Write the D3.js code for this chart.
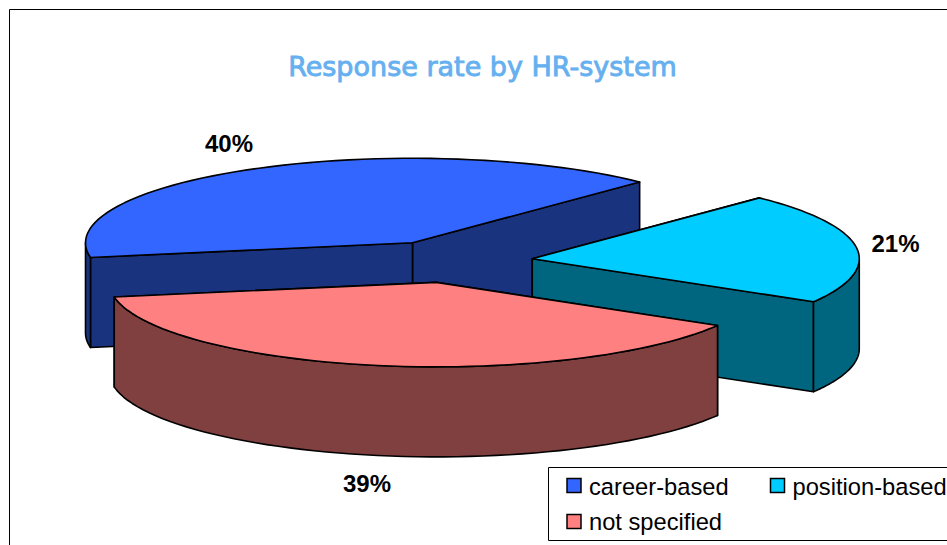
<!DOCTYPE html>
<html><head><meta charset="utf-8">
<script src="https://cdn.jsdelivr.net/npm/d3@7/dist/d3.min.js"></script>
<style>html,body{margin:0;padding:0;background:#fff;overflow:hidden}svg{display:block}</style>
</head><body><script>
const categories = ["career-based", "position-based", "not specified"];
const values = [40, 21.3, 38.7];
const labels = ["40%", "21%", "39%"];
const topColors = ["#3366ff", "#00ccff", "#ff8080"];
const sideColors = ["#19337f", "#006680", "#804040"];

const W = 947, H = 545;
const svg = d3.select("body").append("svg").attr("width", W).attr("height", H);
svg.append("rect").attr("width", W).attr("height", H).attr("fill", "#fff");
svg.append("path").attr("d", `M9.5 ${H}V9.5H${W}`).attr("fill", "none").attr("stroke", "#000").attr("stroke-width", 1);

svg.append("text").attr("x", 482.5).attr("y", 76).attr("text-anchor", "middle")
  .attr("font-family", "'DejaVu Sans'").attr("font-size", 27)
  .attr("fill", "#66b0f0").attr("stroke", "#66b0f0").attr("stroke-width", 0.9)
  .text("Response rate by HR-system");

// Pie geometry
const rx = 327, ry = 84.5, depth = 90, explode = 82, tilt = ry / rx;
const cx = 451, cy = 261.5;
const deg = Math.PI / 180;
const pie = d3.pie().sort(null).startAngle(-100 * deg).endAngle(260 * deg);
const arcs = pie(values);
const lineGen = d3.line();

function pt(c, a, r, z) {
  return [c[0] + Math.sin(a) * r, c[1] - Math.cos(a) * r * tilt + z];
}
const g = svg.append("g").attr("stroke", "#000").attr("stroke-width", 1.6).attr("stroke-linejoin", "round");

arcs.forEach((d, i) => {
  const mid = (d.startAngle + d.endAngle) / 2;
  const c = [cx + Math.sin(mid) * explode, cy - Math.cos(mid) * explode * tilt];
  const side = sideColors[i];
  const samples = (a0, a1) => d3.range(0, 61).map(k => a0 + (a1 - a0) * k / 60);

  // radial cut faces, the farther one first
  [d.startAngle, d.endAngle]
    .sort((a, b) => pt(c, a, rx, 0)[1] - pt(c, b, rx, 0)[1])
    .forEach(a => {
      g.append("path").attr("fill", side).attr("d", lineGen([
        pt(c, a, 0, 0), pt(c, a, rx, 0), pt(c, a, rx, depth), pt(c, a, 0, depth)
      ]) + "Z");
    });

  // outer rim: only the part of the arc facing the viewer (clock angle 90..270)
  const r0 = Math.max(d.startAngle, 90 * deg), r1 = Math.min(d.endAngle, 270 * deg);
  const ranges = [[r0, r1], [Math.max(d.startAngle, -270 * deg), Math.min(d.endAngle, -90 * deg)]];
  ranges.forEach(([a0, a1]) => {
    if (a1 <= a0) return;
    const s = samples(a0, a1);
    g.append("path").attr("fill", side).attr("d", lineGen(
      s.map(a => pt(c, a, rx, 0)).concat(s.slice().reverse().map(a => pt(c, a, rx, depth)))
    ) + "Z");
  });

  // top face
  g.append("path").attr("fill", topColors[i]).attr("d", lineGen(
    [pt(c, 0, 0, 0)].concat(samples(d.startAngle, d.endAngle).map(a => pt(c, a, rx, 0)))
  ) + "Z");
});

// Percent labels
const labelX = d3.scaleOrdinal().domain(categories).range([229, 895.5, 367]);
const labelY = d3.scaleOrdinal().domain(categories).range([152, 252, 492]);
svg.append("g").selectAll("text").data(categories).join("text")
  .attr("x", d => labelX(d)).attr("y", d => labelY(d)).attr("text-anchor", "middle")
  .attr("font-family", "'Liberation Sans'").attr("font-weight", "bold").attr("font-size", 24)
  .attr("fill", "#000").text((d, i) => labels[i]);

// Legend
const legend = svg.append("g");
legend.append("path").attr("d", `M${W} 467.5H548.5V540.5H${W}`).attr("fill", "#fff").attr("stroke", "#000").attr("stroke-width", 1);
const lx = d3.scaleOrdinal().domain(categories).range([567, 770.5, 567]);
const ly = d3.scaleOrdinal().domain(categories).range([478.5, 478.5, 514.5]);
const ty = d3.scaleOrdinal().domain(categories).range([495, 495, 530]);
categories.forEach((c, i) => {
  legend.append("rect").attr("x", lx(c)).attr("y", ly(c)).attr("width", 14).attr("height", 14)
    .attr("fill", topColors[i]).attr("stroke", "#000").attr("stroke-width", 1.5);
  legend.append("text").attr("x", lx(c) + 22).attr("y", ty(c))
    .attr("font-family", "'Liberation Sans'").attr("font-size", 23.7).attr("fill", "#000").text(c);
});
</script></body></html>
